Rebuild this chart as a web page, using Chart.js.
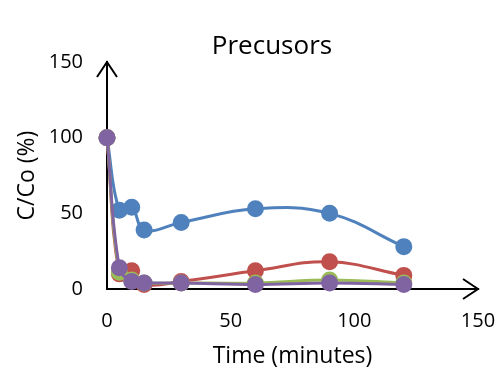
<!DOCTYPE html>
<html>
<head>
<meta charset="utf-8">
<script src="https://cdn.jsdelivr.net/npm/chart.js@4.4.1/dist/chart.umd.min.js"></script>
<style>
  html, body { margin: 0; padding: 0; background: #fff; }
  #wrap { width: 502px; height: 374px; }
</style>
</head>
<body>
<div id="wrap"><canvas id="chart" width="502" height="374"></canvas></div>
<script>
const times = [0, 5, 10, 15, 30, 60, 90, 120];
const seriesBlue = [100, 52, 54, 39, 44, 53, 50, 28];
const seriesRed = [100, 10, 12, 3, 5, 12, 18, 9];
const seriesGreen = [100, 11, 6, 4, 4, 4, 6, 4];
const seriesPurple = [100, 14, 5, 4, 4, 3, 4, 3];
const axisTicks = [0, 50, 100, 150];

const FONT = "'Open Sans', sans-serif";

function toPoints(values) {
  return values.map((v, i) => ({ x: times[i], y: v }));
}

// lower "order" is drawn on top, so the last series ends up in front
function lineSet(values, color, order) {
  return {
    data: toPoints(values),
    order,
    borderColor: color,
    backgroundColor: color,
    pointBackgroundColor: color,
    pointBorderColor: color,
    borderWidth: 3,
    pointRadius: 7,
    pointHoverRadius: 7,
    tension: 0.4,
    fill: false,
    clip: false,
  };
}

// open arrow heads at the ends of both axes, plus the chart heading
const axisDecor = {
  id: "axisDecor",
  afterDraw(chart) {
    const { ctx, scales } = chart;
    const x0 = scales.x.getPixelForValue(0);
    const y0 = scales.y.getPixelForValue(0);
    const xEnd = scales.x.getPixelForValue(150);
    const yEnd = scales.y.getPixelForValue(150);

    ctx.save();
    ctx.strokeStyle = "#000";
    ctx.lineWidth = 2;
    ctx.beginPath();
    ctx.moveTo(x0 - 10, yEnd + 15);
    ctx.lineTo(x0, yEnd);
    ctx.lineTo(x0 + 10, yEnd + 15);
    ctx.moveTo(xEnd - 15, y0 - 10);
    ctx.lineTo(xEnd, y0);
    ctx.lineTo(xEnd - 15, y0 + 10);
    ctx.stroke();

    ctx.fillStyle = "#000";
    ctx.font = "26px " + FONT;
    ctx.textAlign = "center";
    ctx.textBaseline = "middle";
    ctx.fillText("Precusors", 272, 47);
    ctx.restore();
  },
};

new Chart(document.getElementById("chart"), {
  type: "line",
  data: {
    datasets: [
      lineSet(seriesBlue, "#4f81bd", 3),
      lineSet(seriesRed, "#c0504d", 2),
      lineSet(seriesGreen, "#9bbb59", 1),
      lineSet(seriesPurple, "#8064a2", 0),
    ],
  },
  options: {
    responsive: false,
    animation: false,
    layout: { padding: { top: 62, right: 24, bottom: 0, left: 0 } },
    plugins: {
      legend: { display: false },
      tooltip: { enabled: false },
      title: { display: false },
    },
    scales: {
      x: {
        type: "linear",
        min: 0,
        max: 150,
        afterBuildTicks(scale) {
          scale.ticks = axisTicks.map((v) => ({ value: v }));
        },
        afterFit(scale) {
          scale.height = 85;
          scale.paddingLeft = 0;
          scale.paddingRight = 0;
        },
        grid: { display: false, drawTicks: false },
        border: { display: true, color: "#000", width: 2 },
        ticks: {
          color: "#000",
          padding: 20,
          font: { family: FONT, size: 20 },
        },
        title: {
          display: true,
          text: "Time (minutes)",
          color: "#000",
          font: { family: FONT, size: 23 },
          padding: { top: 0, bottom: 4 },
        },
      },
      y: {
        type: "linear",
        min: 0,
        max: 150,
        afterBuildTicks(scale) {
          scale.ticks = axisTicks.map((v) => ({ value: v }));
        },
        afterFit(scale) {
          scale.width = 107;
        },
        grid: { display: false, drawTicks: false },
        border: { display: true, color: "#000", width: 2 },
        ticks: {
          color: "#000",
          padding: 24,
          font: { family: FONT, size: 20 },
        },
        title: {
          display: true,
          text: "C/Co (%)",
          color: "#000",
          font: { family: FONT, size: 23 },
          padding: { top: 14, bottom: 0 },
        },
      },
    },
  },
  plugins: [axisDecor],
});
</script>
</body>
</html>
